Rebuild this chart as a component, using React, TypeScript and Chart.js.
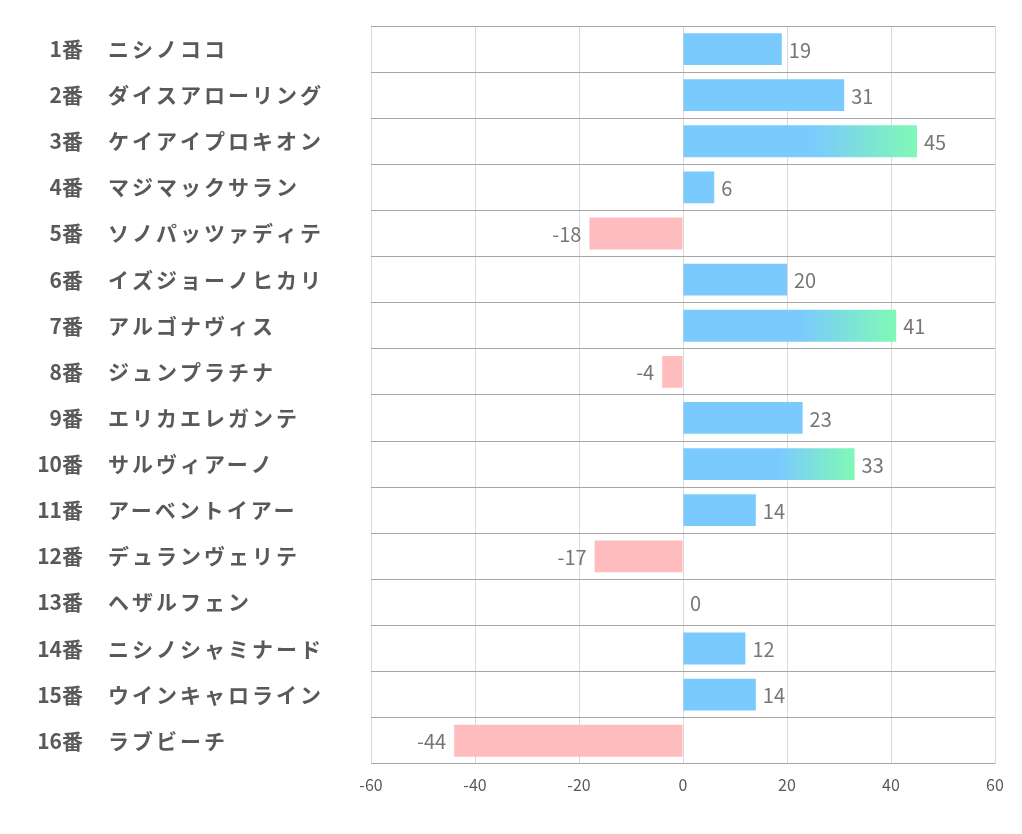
import React, { useEffect, useRef } from "react";
import { Chart, registerables } from "chart.js";

Chart.register(...registerables);

const numbers = ["1番","2番","3番","4番","5番","6番","7番","8番","9番","10番","11番","12番","13番","14番","15番","16番"];
const horses = ["ニシノココ","ダイスアローリング","ケイアイプロキオン","マジマックサラン","ソノパッツァディテ","イズジョーノヒカリ","アルゴナヴィス","ジュンプラチナ","エリカエレガンテ","サルヴィアーノ","アーベントイアー","デュランヴェリテ","ヘザルフェン","ニシノシャミナード","ウインキャロライン","ラブビーチ"];
const scores = [19, 31, 45, 6, -18, 20, 41, -4, 23, 33, 14, -17, 0, 12, 14, -44];
const xTicks = [-60, -40, -20, 0, 20, 40, 60];

const BLUE = "#7ACAFE";
const GREEN = "#80F9B6";
const PINK = "#FFBCBE";
const FONT = "'Noto Sans CJK JP', 'Noto Sans', sans-serif";

export default function App() {
  const ref = useRef<HTMLCanvasElement | null>(null);
  useEffect(() => {
    if (!ref.current) return;
    const labelPlugin = {
      id: "labels",
      afterDraw(chart: any) {
        const ctx = chart.ctx;
        const ys = chart.scales.y;
        ctx.save();
        ctx.fillStyle = "#595959";
        ctx.font = `bold 21px ${FONT}`;
        ctx.textBaseline = "middle";
        numbers.forEach((n, i) => {
          const y = ys.getPixelForValue(i);
          ctx.textAlign = "right";
          (ctx as any).letterSpacing = "0px";
          ctx.fillText(n, 75, y);
          ctx.textAlign = "left";
          (ctx as any).letterSpacing = "3px";
          ctx.fillText(horses[i], 100, y);
        });
        (ctx as any).letterSpacing = "0px";
        ctx.restore();
      },
    };
    const valuePlugin = {
      id: "values",
      afterDatasetsDraw(chart: any) {
        const ctx = chart.ctx;
        const meta = chart.getDatasetMeta(0);
        ctx.save();
        ctx.fillStyle = "#767676";
        ctx.font = `20px ${FONT}`;
        ctx.textBaseline = "middle";
        meta.data.forEach((el: any, i: number) => {
          const v = scores[i];
          if (v < 0) {
            ctx.textAlign = "right";
            ctx.fillText(String(v), el.x - 8, el.y + 1);
          } else {
            ctx.textAlign = "left";
            ctx.fillText(String(v), el.x + 7, el.y + 1);
          }
        });
        ctx.restore();
      },
    };
    const chart = new Chart(ref.current, {
      type: "bar",
      data: {
        labels: horses,
        datasets: [
          {
            data: scores,
            backgroundColor: (c: any) => {
              const v = scores[c.dataIndex];
              if (v < 0) return PINK;
              if (v >= 33) {
                const xs = c.chart.scales.x;
                if (!xs) return BLUE;
                const x0 = xs.getPixelForValue(0);
                const x1 = xs.getPixelForValue(v);
                const g = c.chart.ctx.createLinearGradient(x0, 0, x1, 0);
                g.addColorStop(0, BLUE);
                g.addColorStop(0.55, BLUE);
                g.addColorStop(1, GREEN);
                return g;
              }
              return BLUE;
            },
            borderWidth: 0,
            barPercentage: 0.69,
            categoryPercentage: 1,
          },
        ],
      },
      options: {
        indexAxis: "y",
        animation: false,
        responsive: true,
        maintainAspectRatio: false,
        layout: { padding: { left: 363, right: 19, top: 18, bottom: 19 } },
        plugins: { legend: { display: false }, tooltip: { enabled: false } },
        scales: {
          x: {
            min: -60,
            max: 60,
            afterBuildTicks: (s: any) => {
              s.ticks = xTicks.map((v) => ({ value: v }));
            },
            afterFit: (s: any) => {
              s.paddingLeft = 0;
              s.paddingRight = 0;
            },
            grid: { color: "#D9D9D9", drawTicks: false, lineWidth: 1 },
            border: { display: false },
            ticks: { color: "#595959", font: { family: FONT, size: 16 }, padding: 12 },
          },
          y: {
            grid: { color: "#A6A6A6", offset: true, drawTicks: false, lineWidth: 1 },
            border: { display: false },
            ticks: { display: false },
            afterFit: (s: any) => {
              s.width = 0;
            },
          },
        },
      },
      plugins: [labelPlugin, valuePlugin],
    } as any);
    return () => chart.destroy();
  }, []);
  return (
    <div style={{ width: 1006, height: 818, position: "relative" }}>
      <canvas ref={ref} />
    </div>
  );
}
